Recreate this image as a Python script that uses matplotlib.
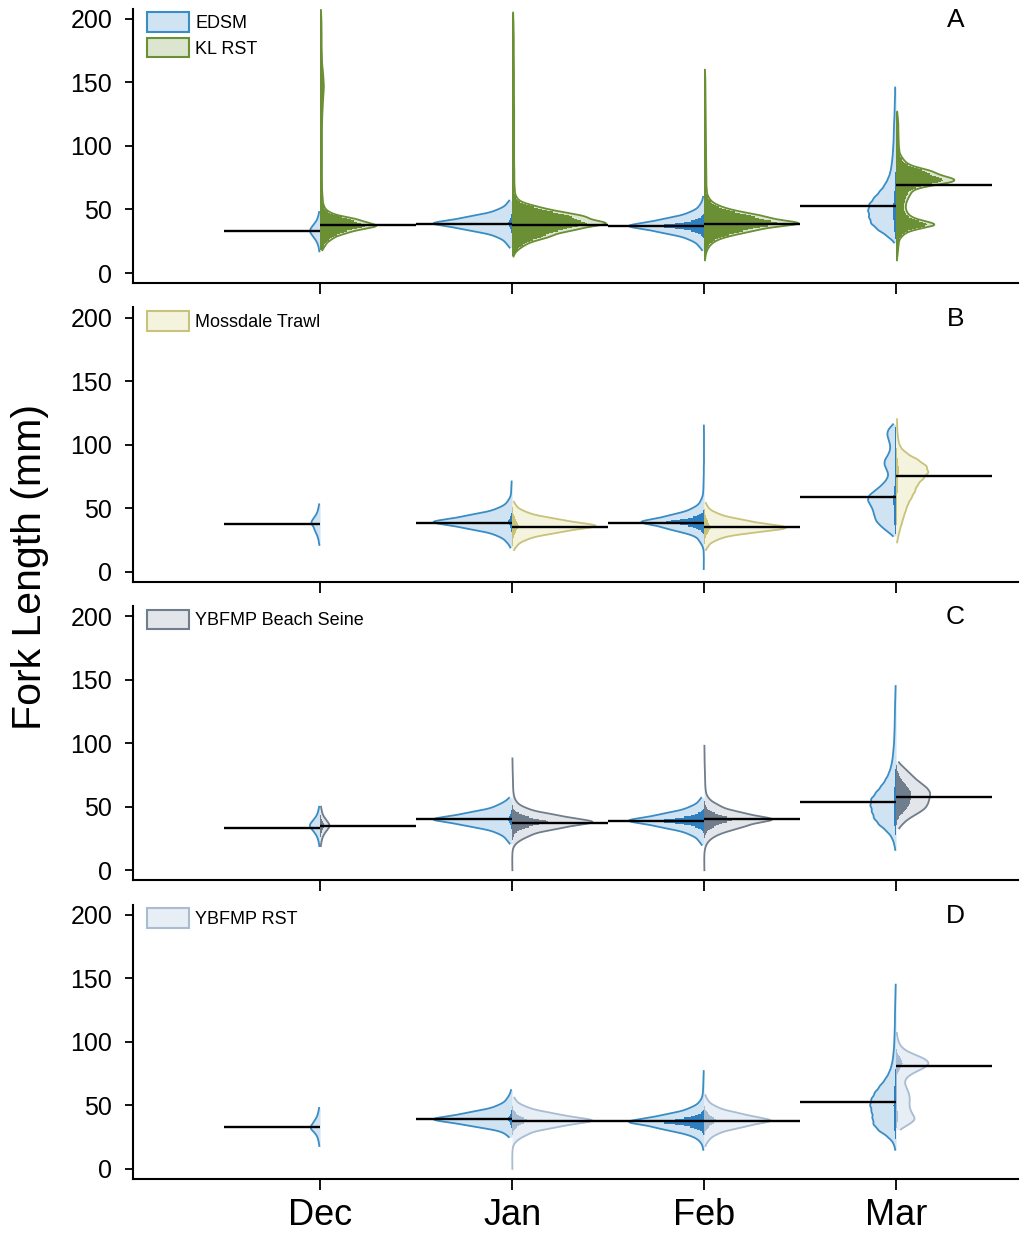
import numpy as np
import matplotlib
matplotlib.use("Agg")
import matplotlib.pyplot as plt
from matplotlib.patches import Patch

plt.rcParams['font.family'] = ['Liberation Sans', 'DejaVu Sans']

months = ["Dec", "Jan", "Feb", "Mar"]
panel_letters = ["A", "B", "C", "D"]
survey_names = ["KL RST", "Mossdale Trawl", "YBFMP Beach Seine", "YBFMP RST"]

# fish counts per length bin (fork length mm)
# panel A: EDSM vs KL RST
a_edsm_fl = [[17, 21, 25, 29, 33, 37, 41, 45, 48],
             [20, 24, 29, 34, 39, 44, 49, 54, 57],
             [18, 22, 27, 32, 37, 42, 47, 52, 56, 60],
             [24, 29, 34, 39, 44, 49, 54, 59, 64, 69, 74, 79, 84, 89, 94, 99, 104,
              109, 114, 119, 124, 129, 134, 139, 144, 146]]
a_edsm_n = [[3, 6, 14, 30, 48, 32, 14, 6, 3],
            [8, 30, 80, 230, 450, 230, 80, 25, 6],
            [6, 28, 80, 220, 430, 220, 80, 25, 8, 4],
            [8, 45, 95, 130, 140, 145, 140, 115, 85, 60, 42, 30, 24, 20, 17, 15, 13,
             12, 11, 10, 8, 7, 6, 5, 4, 3]]
a_kl_fl = [[18, 22, 27, 32, 37, 42, 47, 52, 57, 62, 67, 72, 77, 82, 87, 92, 97, 102,
            107, 112, 117, 122, 127, 132, 137, 142, 147, 152, 157, 162, 167, 172, 177,
            182, 187, 192, 197, 202, 207],
           [13, 17, 21, 25, 29, 34, 39, 44, 48, 52, 56, 60, 65, 70, 75, 80, 85, 90, 95,
            100, 105, 110, 115, 120, 125, 130, 135, 140, 145, 150, 155, 160, 165, 170,
            175, 180, 185, 190, 195, 200, 205],
           [10, 14, 18, 22, 26, 30, 34, 39, 44, 48, 52, 56, 60, 65, 70, 75, 80, 85, 90,
            95, 100, 105, 110, 115, 120, 125, 130, 135, 140, 145, 150, 155, 160],
           [10, 14, 18, 22, 26, 30, 34, 38, 42, 46, 50, 54, 58, 62, 66, 70, 73, 76, 80,
            84, 88, 92, 97, 102, 107, 112, 117, 122, 127]]
a_kl_n = [[8, 25, 60, 140, 320, 200, 50, 20, 14, 12, 10, 10, 10, 10, 10, 10, 10, 10,
           10, 10, 10, 12, 12, 14, 16, 18, 20, 18, 16, 12, 10, 10, 8, 8, 8, 8, 8, 6, 5],
          [5, 15, 45, 80, 190, 320, 520, 360, 200, 110, 30, 18, 14, 12, 12, 12, 11, 11,
           11, 11, 11, 11, 11, 11, 11, 11, 10, 10, 10, 10, 10, 10, 10, 9, 9, 9, 9, 8, 8,
           7, 6],
          [4, 6, 12, 25, 50, 120, 250, 540, 300, 150, 70, 30, 18, 14, 12, 12, 11, 11,
           10, 10, 10, 10, 10, 9, 9, 9, 8, 8, 8, 7, 7, 6, 5],
          [4, 6, 8, 10, 12, 28, 60, 210, 80, 50, 40, 40, 48, 60, 70, 160, 220, 160, 170,
           60, 35, 22, 16, 14, 13, 12, 12, 10, 6]]
a_edsm_med = [33, 38.5, 37, 53]
a_kl_med = [38, 38, 38.5, 69]

# panel B: EDSM vs Mossdale Trawl
b_edsm_fl = [[21, 25, 29, 33, 38, 42, 46, 50, 53],
             [19, 24, 29, 34, 39, 44, 49, 54, 58, 63, 67, 71],
             [2, 6, 10, 15, 21, 25, 30, 34, 39, 44, 49, 54, 58, 63, 68, 73, 80, 90, 100,
              110, 115],
             [28, 32, 36, 40, 44, 48, 52, 56, 60, 64, 68, 72, 76, 80, 84, 88, 92, 96,
              100, 104, 108, 112, 116]]
b_edsm_n = [[3, 6, 12, 26, 45, 26, 12, 6, 3],
            [8, 30, 80, 230, 450, 230, 80, 25, 8, 4, 3, 2],
            [2, 1, 1, 2, 8, 25, 65, 180, 360, 180, 65, 20, 8, 4, 3, 2, 2, 1, 1, 1, 1],
            [10, 40, 65, 85, 90, 95, 105, 120, 115, 85, 60, 40, 30, 38, 50, 48, 32, 24,
             24, 32, 38, 34, 10]]
b_moss_fl = [[],
             [17, 21, 26, 31, 36, 41, 46, 51, 55],
             [17, 21, 26, 31, 35, 40, 45, 50, 54],
             [23, 28, 33, 38, 43, 48, 53, 58, 63, 68, 73, 78, 83, 88, 93, 98, 103, 108,
              113, 118, 120]]
b_moss_n = [[],
            [6, 25, 80, 240, 480, 240, 80, 22, 6],
            [6, 22, 75, 220, 440, 220, 75, 20, 6],
            [5, 12, 20, 30, 40, 50, 62, 80, 98, 110, 140, 170, 160, 115, 55, 22, 12, 8,
             6, 4, 3]]
b_edsm_med = [37.5, 38.5, 38.5, 59]
b_moss_med = [np.nan, 35.5, 35, 75]

# panel C: EDSM vs YBFMP Beach Seine
c_edsm_fl = [[19, 23, 27, 31, 35, 39, 43, 47, 50],
             [21, 25, 30, 35, 40, 45, 50, 54, 57],
             [20, 24, 29, 34, 39, 44, 49, 54, 57],
             [16, 21, 26, 31, 36, 41, 46, 51, 56, 61, 66, 71, 76, 81, 86, 91, 96, 101,
              106, 111, 116, 121, 126, 131, 136, 141, 145]]
c_edsm_n = [[3, 6, 13, 28, 50, 30, 13, 6, 3],
            [8, 30, 80, 230, 450, 230, 80, 25, 6],
            [8, 28, 80, 220, 430, 220, 80, 25, 6],
            [4, 10, 22, 50, 90, 115, 125, 133, 130, 105, 78, 55, 38, 27, 20, 16, 13, 10,
             9, 8, 7, 6, 6, 5, 4, 3, 2]]
c_bs_fl = [[19, 23, 27, 31, 35, 39, 43, 47, 50],
           [0, 5, 10, 15, 20, 24, 28, 33, 38, 43, 48, 53, 58, 63, 68, 73, 78, 83, 88],
           [0, 5, 10, 15, 19, 23, 27, 31, 35, 40, 45, 50, 54, 58, 63, 68, 73, 78, 83, 88,
            93, 98],
           [33, 37, 41, 45, 49, 53, 57, 61, 65, 69, 73, 77, 81, 85]]
c_bs_n = [[3, 6, 12, 26, 46, 28, 12, 6, 3],
          [2, 1, 1, 2, 10, 35, 90, 240, 460, 240, 80, 25, 10, 6, 5, 4, 3, 3, 2],
          [2, 1, 1, 2, 6, 18, 45, 100, 200, 390, 200, 80, 30, 14, 8, 6, 5, 4, 3, 3, 2, 2],
          [12, 30, 55, 95, 125, 135, 140, 145, 130, 100, 75, 55, 30, 10]]
c_edsm_med = [33.5, 40, 38.5, 54]
c_bs_med = [34.5, 37.5, 40, 58]

# panel D: EDSM vs YBFMP RST
d_edsm_fl = [[18, 22, 26, 30, 33, 37, 41, 45, 48],
             [25, 29, 34, 39, 44, 49, 54, 58, 62],
             [15, 20, 24, 28, 32, 37, 42, 47, 52, 57, 62, 67, 72, 77],
             [15, 20, 25, 30, 35, 40, 45, 50, 55, 60, 65, 70, 75, 80, 85, 90, 95, 100,
              105, 110, 115, 120, 125, 130, 135, 140, 145]]
d_edsm_n = [[3, 6, 12, 26, 40, 26, 12, 6, 3],
            [10, 40, 220, 450, 230, 80, 28, 10, 4],
            [4, 10, 28, 80, 220, 430, 220, 80, 25, 8, 5, 4, 3, 2],
            [4, 12, 40, 90, 118, 122, 126, 135, 128, 110, 85, 58, 38, 25, 18, 14, 11, 9,
             8, 7, 6, 6, 5, 5, 4, 3, 2]]
d_rst_fl = [[],
            [0, 5, 10, 15, 20, 24, 28, 33, 38, 43, 48, 53, 56],
            [18, 23, 28, 33, 38, 43, 48, 53, 58],
            [31, 35, 39, 43, 47, 51, 55, 59, 63, 67, 71, 75, 79, 83, 87, 91, 95, 99, 103,
             107]]
d_rst_n = [[],
           [2, 1, 1, 2, 8, 30, 80, 230, 460, 230, 80, 20, 5],
           [6, 25, 70, 200, 380, 200, 70, 22, 6],
           [15, 55, 85, 68, 58, 55, 58, 55, 45, 36, 38, 65, 115, 145, 120, 60, 25, 12, 6,
            3]]
d_edsm_med = [33, 39.5, 37.5, 53]
d_rst_med = [np.nan, 38, 38, 81]

# colours: fill, edge, inner points
edsm_style = ("#cfe3f3", "#3a8cc4", "#2f7fbf")
other_styles = [("#dbe5cf", "#6a8f34", "#6a8f34"),
                ("#f4f3dd", "#c9c27a", "#c9c27a"),
                ("#e2e5ea", "#6f7d8c", "#6f7d8c"),
                ("#e7eef5", "#a8bcd2", "#a8bcd2")]
# inner dot-strip size (fraction of violin width, peakiness)
edsm_inner = [(0.0, 1), (0.05, 2), (0.6, 3), (0.1, 1)]
other_inner = [(0.8, 1), (0.08, 1), (0.45, 2), (0.2, 2)]

BW = 2.5
WIDTH_PER_FISH = 0.005


def half_violin(ax, xc, fl, n, side, style, frac, power):
    """draw one half of a split violin (side=-1 left, +1 right)"""
    if len(fl) == 0:
        return
    fill, edge, inner = style
    fl = np.asarray(fl, float)
    n = np.asarray(n, float)
    y = np.linspace(fl.min(), fl.max(), 800)
    k = np.exp(-0.5 * ((y[:, None] - fl[None, :]) / BW) ** 2) / (BW * np.sqrt(2 * np.pi))
    w = (k * n[None, :]).sum(1) * WIDTH_PER_FISH
    ax.fill_betweenx(y, xc, xc + side * w, color=fill, lw=0, zorder=1)
    if frac > 0:
        # stacked dots shown as 1 mm strips
        yb = np.arange(np.ceil(fl.min()), np.floor(fl.max()) + 1, 1.0)
        wb = np.interp(yb, y, w)
        ln = frac * wb * (wb / w.max()) ** (power - 1)
        ax.fill_betweenx(yb, xc, xc + side * ln, step="mid", color=inner,
                         lw=0, zorder=2)
    ax.plot(xc + side * w, y, color=edge, lw=1.3, zorder=3)


panels = [(a_edsm_fl, a_edsm_n, a_edsm_med, a_kl_fl, a_kl_n, a_kl_med),
          (b_edsm_fl, b_edsm_n, b_edsm_med, b_moss_fl, b_moss_n, b_moss_med),
          (c_edsm_fl, c_edsm_n, c_edsm_med, c_bs_fl, c_bs_n, c_bs_med),
          (d_edsm_fl, d_edsm_n, d_edsm_med, d_rst_fl, d_rst_n, d_rst_med)]

fig = plt.figure(figsize=(10.29, 12.36), dpi=100)
x = np.arange(1, len(months) + 1)

for p, (efl, en, emed, ofl, on, omed) in enumerate(panels):
    ax = fig.add_axes([0.1293, 0.0461 + (3 - p) * 0.2416, 0.86, 0.222])
    for i, xc in enumerate(x):
        half_violin(ax, xc, efl[i], en[i], -1, edsm_style, *edsm_inner[i])
        half_violin(ax, xc, ofl[i], on[i], 1, other_styles[p], *other_inner[p])
        if not np.isnan(emed[i]):
            ax.hlines(emed[i], xc - 0.5, xc, color="black", lw=1.7, zorder=5)
        if not np.isnan(omed[i]):
            ax.hlines(omed[i], xc, xc + 0.5, color="black", lw=1.7, zorder=5)

    ax.set_xlim(0.026, 4.635)
    ax.set_ylim(-8, 208)
    ax.set_yticks([0, 50, 100, 150, 200])
    ax.set_xticks(x)
    if p == 3:
        ax.set_xticklabels(months, fontsize=26)
    else:
        ax.set_xticklabels([])
    ax.tick_params(axis="y", labelsize=18, length=6, width=1.3, pad=9)
    ax.tick_params(axis="x", length=8, width=1.3, pad=6)
    for s in ["top", "right"]:
        ax.spines[s].set_visible(False)
    for s in ["left", "bottom"]:
        ax.spines[s].set_linewidth(1.5)

    fill, edge, _ = other_styles[p]
    handles = [Patch(facecolor=fill, edgecolor=edge, lw=1.5, label=survey_names[p])]
    if p == 0:
        handles.insert(0, Patch(facecolor=edsm_style[0], edgecolor=edsm_style[1],
                                lw=1.5, label="EDSM"))
    ax.legend(handles=handles, loc="upper left", bbox_to_anchor=(0.006, 1.02),
              frameon=False, fontsize=13, handlelength=2.3, handleheight=1.3,
              handletextpad=0.35, labelspacing=0.3, borderpad=0)
    ax.text(4.31, 199, panel_letters[p], fontsize=19, ha="center", va="center")

fig.text(0.029, 0.541, "Fork Length (mm)", rotation=90, fontsize=29.5,
         ha="center", va="center")

fig.savefig("out.png", dpi=100)
